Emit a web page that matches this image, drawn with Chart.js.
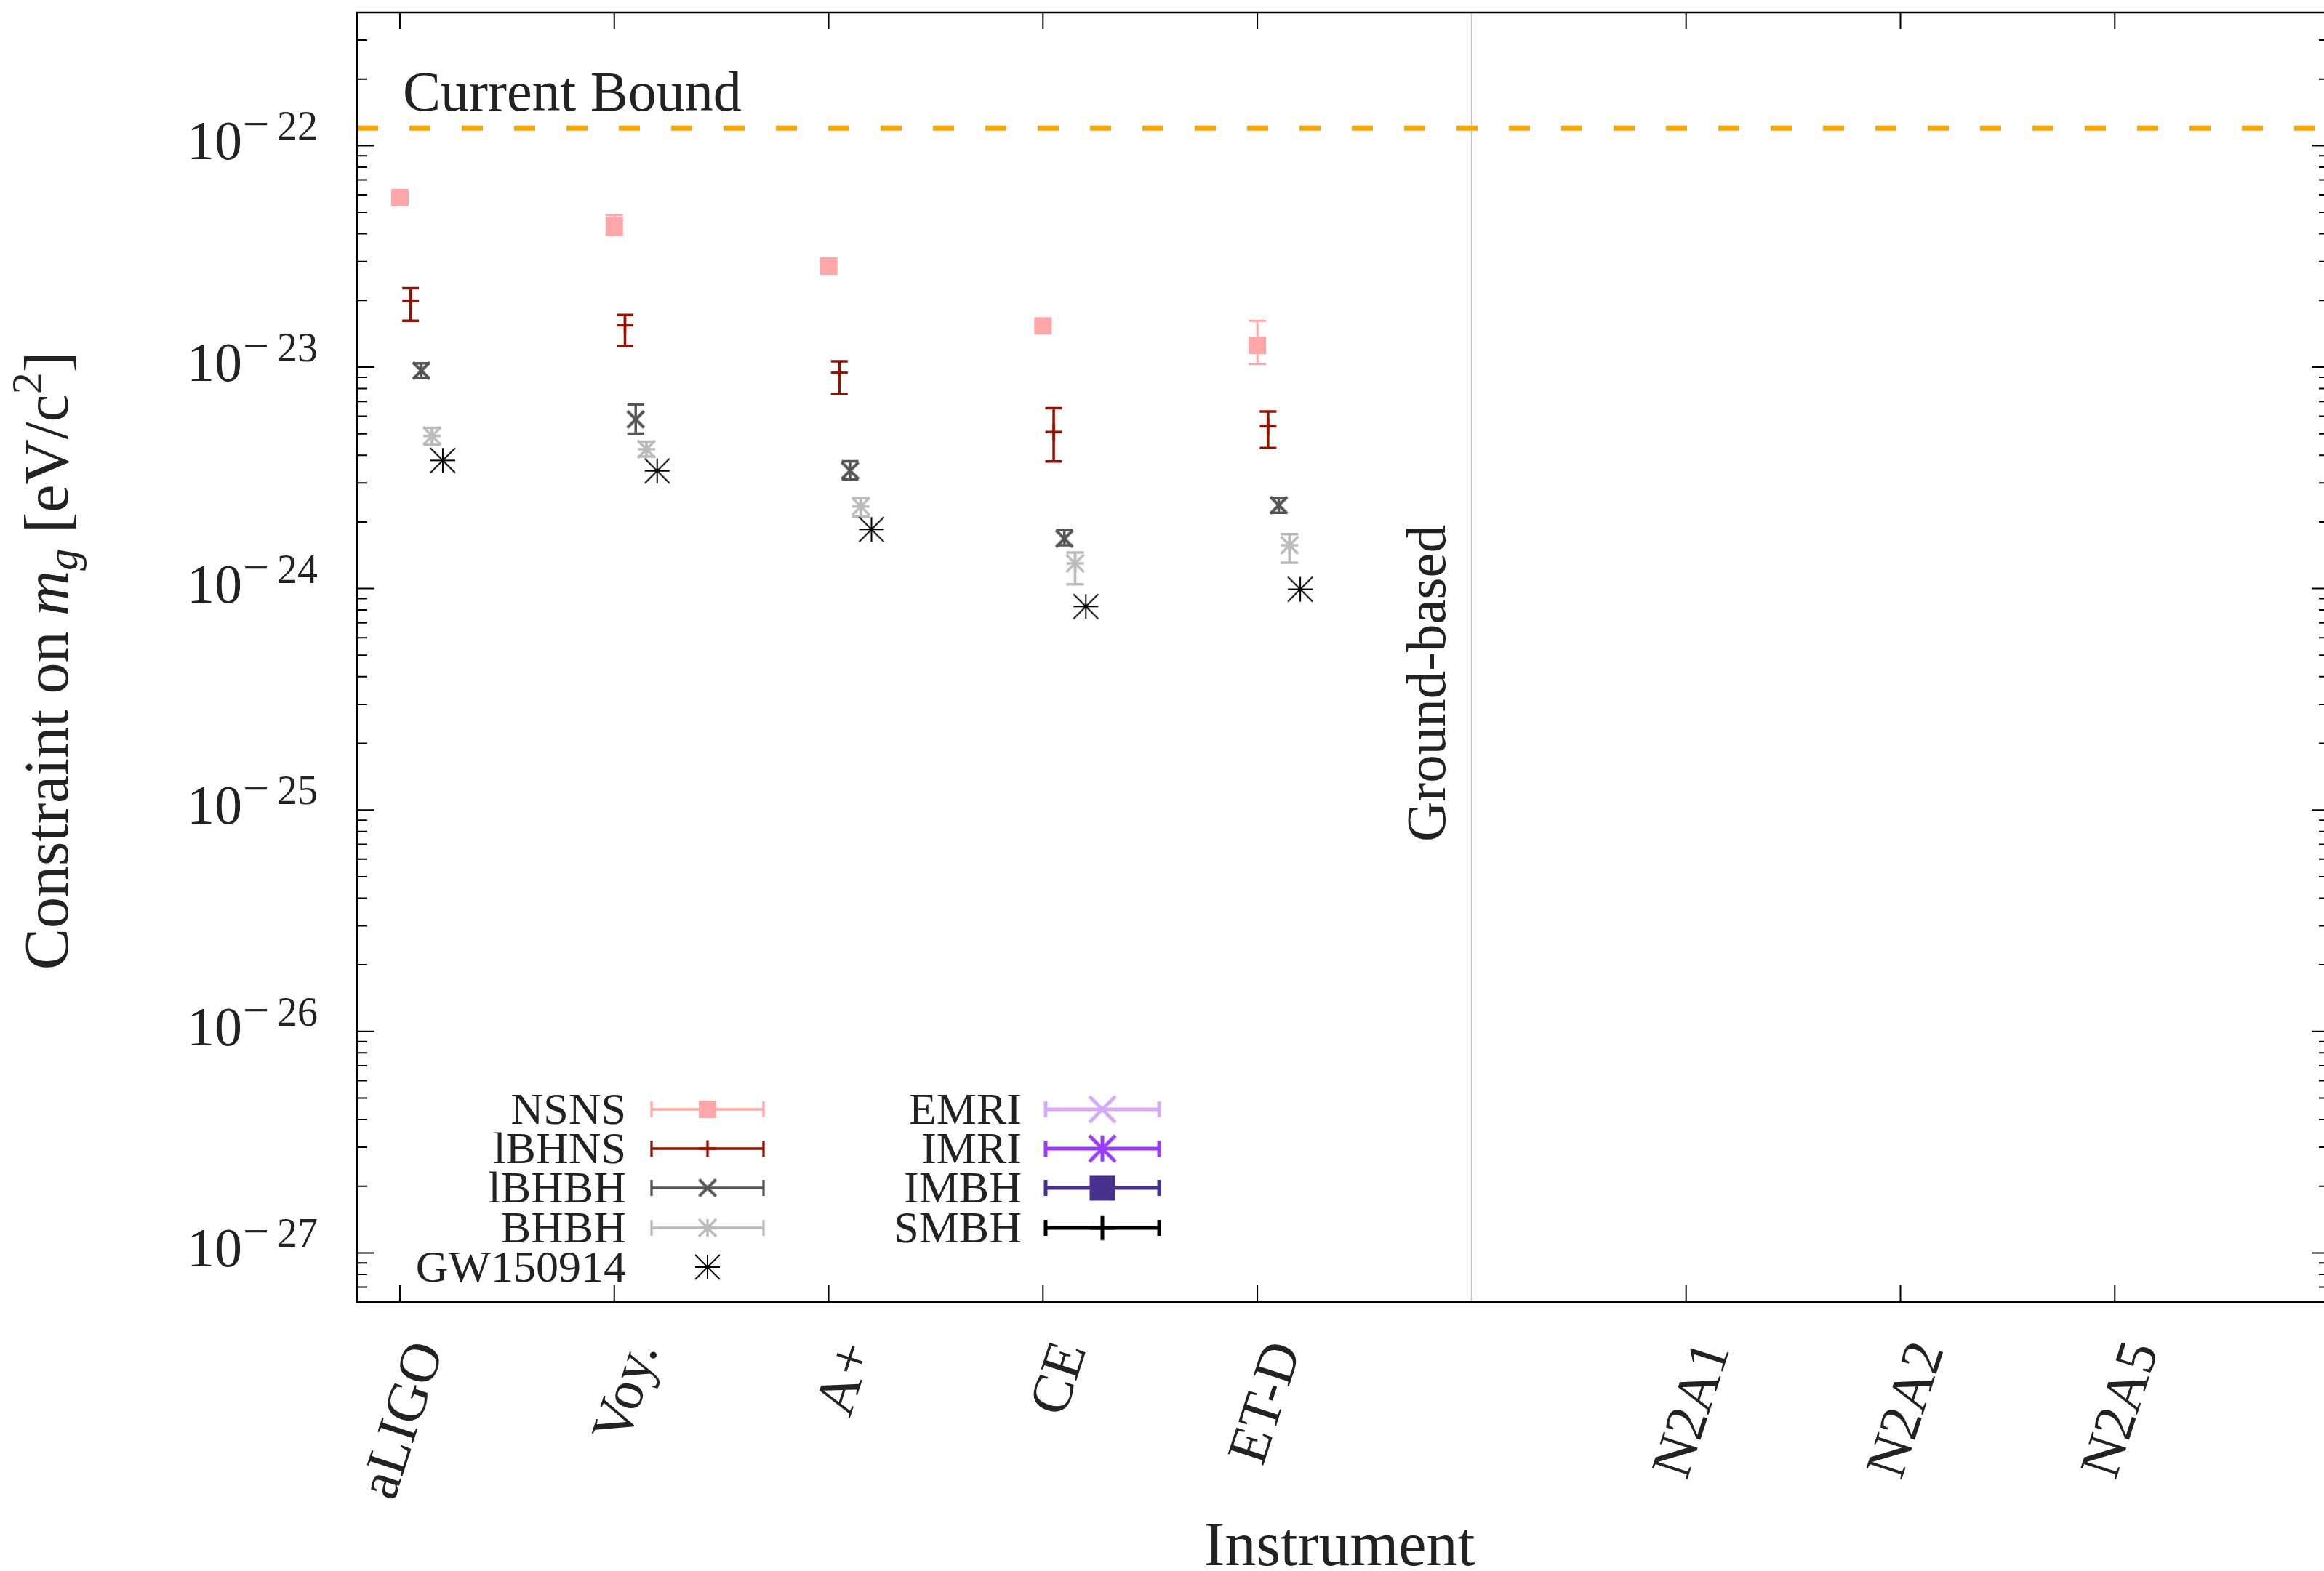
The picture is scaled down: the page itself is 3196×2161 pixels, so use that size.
<!DOCTYPE html>
<html>
<head>
<meta charset="utf-8">
<script src="https://cdn.jsdelivr.net/npm/chart.js@4.4.1/dist/chart.umd.min.js"></script>
<style>
  html, body { margin: 0; padding: 0; background: #fff; overflow: hidden; }
  canvas { display: block; }
  .fontwarm { position: absolute; left: -9999px; top: 0; font-family: "Liberation Serif"; font-size: 20px; }
</style>
</head>
<body>
<span class="fontwarm">Instrument <i>m</i></span>
<canvas id="mgChart" width="3196" height="2161"></canvas>
<script>
// Instruments along the x axis (ground-based first, space-based after the split)
const instruments = ['aLIGO', 'Voy.', 'A+', 'CE', 'ET-D', 'N2A1', 'N2A2', 'N2A5'];
const instrumentX = [0, 1, 2, 3, 4, 6, 7, 8];
const groundSplit = 5;
const yExponents = [-27, -26, -25, -24, -23, -22];
const currentBound = 1.2e-22;

// Constraint on m_g [eV/c^2] for the ground-based detectors (aLIGO .. ET-D)
const nsns   = [5.82e-23, 4.35e-23, 2.86e-23, 1.535e-23, 1.253e-23];
const nsnsLo = [5.60e-23, 3.95e-23, 2.76e-23, 1.49e-23, 1.033e-23];
const nsnsHi = [6.05e-23, 4.85e-23, 2.96e-23, 1.58e-23, 1.62e-23];

const lbhns   = [1.99e-23, 1.546e-23, 9.44e-24, 5.10e-24, 5.42e-24];
const lbhnsLo = [1.62e-23, 1.245e-23, 7.54e-24, 3.75e-24, 4.31e-24];
const lbhnsHi = [2.27e-23, 1.72e-23, 1.062e-23, 6.53e-24, 6.31e-24];

const lbhbh   = [9.64e-24, 5.81e-24, 3.41e-24, 1.68e-24, 2.38e-24];
const lbhbhLo = [8.95e-24, 5.01e-24, 3.11e-24, 1.57e-24, 2.20e-24];
const lbhbhHi = [1.04e-23, 6.78e-24, 3.76e-24, 1.84e-24, 2.56e-24];

const bhbh   = [4.89e-24, 4.26e-24, 2.35e-24, 1.30e-24, 1.57e-24];
const bhbhLo = [4.46e-24, 3.95e-24, 2.12e-24, 1.045e-24, 1.31e-24];
const bhbhHi = [5.32e-24, 4.61e-24, 2.56e-24, 1.455e-24, 1.76e-24];

const gw150914 = [3.79e-24, 3.40e-24, 1.85e-24, 8.30e-25, 9.93e-25];

const FONT = '"Liberation Serif", "DejaVu Serif", serif';
const TEXT = '#222222';

// small canvases used as point styles
function glyph(kind, half, lw, color) {
  const s = Math.ceil(2 * half + lw + 4);
  const c = document.createElement('canvas');
  c.width = s; c.height = s;
  const g = c.getContext('2d');
  const m = s / 2;
  g.strokeStyle = color; g.fillStyle = color; g.lineWidth = lw;
  const seg = (x0, y0, x1, y1) => { g.beginPath(); g.moveTo(m + x0, m + y0); g.lineTo(m + x1, m + y1); g.stroke(); };
  if (kind === 'square') g.fillRect(m - half, m - half, 2 * half, 2 * half);
  if (kind === 'plus' || kind === 'ast') { seg(-half, 0, half, 0); seg(0, -half, 0, half); }
  if (kind === 'x' || kind === 'ast') { seg(-half, -half, half, half); seg(-half, half, half, -half); }
  if (kind === 'vx') { seg(0, -half, 0, half); seg(-half, -half, half, half); seg(-half, half, half, -half); }
  return c;
}

function pts(vals, offset) {
  return vals.map((v, i) => ({ x: instrumentX[i] + offset, y: v }));
}

const datasets = [
  { label: 'Current Bound', data: [{ x: -0.2, y: currentBound }, { x: 9, y: currentBound }],
    showLine: true, borderColor: '#ffa500', borderWidth: 7, borderDash: [29, 43], pointRadius: 0 },
  { label: 'split', data: [{ x: groundSplit, y: 6e-28 }, { x: groundSplit, y: 4e-22 }],
    showLine: true, borderColor: '#c4c4c4', borderWidth: 2, pointRadius: 0 },
  { label: 'NSNS', data: pts(nsns, 0), errLo: nsnsLo, errHi: nsnsHi, errColor: '#ffa6a8', errWidth: 3, capHalf: 12,
    pointStyle: glyph('square', 12, 0, '#ffa6a8'), pointRadius: 12, legend: { col: 0, row: 0, bar: true } },
  { label: 'lBHNS', data: pts(lbhns, 0.05), errLo: lbhnsLo, errHi: lbhnsHi, errColor: '#901200', errWidth: 3.5, capHalf: 11.5,
    pointStyle: glyph('plus', 11.5, 3.5, '#901200'), pointRadius: 12, legend: { col: 0, row: 1, bar: true } },
  { label: 'lBHBH', data: pts(lbhbh, 0.1), errLo: lbhbhLo, errHi: lbhbhHi, errColor: '#555555', errWidth: 3.5, capHalf: 11.5,
    pointStyle: glyph('x', 11.5, 4, '#555555'), pointRadius: 12, legend: { col: 0, row: 2, bar: true } },
  { label: 'BHBH', data: pts(bhbh, 0.15), errLo: bhbhLo, errHi: bhbhHi, errColor: '#bbbbbb', errWidth: 3.5, capHalf: 12,
    pointStyle: glyph('ast', 12, 3.5, '#bbbbbb'), pointRadius: 12, legend: { col: 0, row: 3, bar: true } },
  { label: 'GW150914', data: pts(gw150914, 0.2),
    pointStyle: glyph('ast', 17, 2, '#000000'), pointRadius: 17, legend: { col: 0, row: 4, bar: false } },
  { label: 'EMRI', data: [], errColor: '#d6a9f7', errWidth: 5,
    pointStyle: glyph('x', 18, 5, '#d6a9f7'), legend: { col: 1, row: 0, bar: true } },
  { label: 'IMRI', data: [], errColor: '#9a3cf5', errWidth: 5,
    pointStyle: glyph('vx', 18, 5, '#9a3cf5'), legend: { col: 1, row: 1, bar: true } },
  { label: 'IMBH', data: [], errColor: '#48318c', errWidth: 5,
    pointStyle: glyph('square', 17.5, 0, '#48318c'), legend: { col: 1, row: 2, bar: true } },
  { label: 'SMBH', data: [], errColor: '#000000', errWidth: 5,
    pointStyle: glyph('plus', 17, 5, '#000000'), legend: { col: 1, row: 3, bar: true } }
];

// error bars, drawn under the markers
const errorBars = {
  id: 'errorBars',
  beforeDatasetsDraw(chart) {
    const ctx = chart.ctx, ys = chart.scales.y;
    chart.data.datasets.forEach((ds, i) => {
      if (!ds.errLo) return;
      const meta = chart.getDatasetMeta(i);
      ctx.save();
      ctx.strokeStyle = ds.errColor;
      ctx.lineWidth = ds.errWidth;
      meta.data.forEach((pt, j) => {
        const yLo = ys.getPixelForValue(ds.errLo[j]);
        const yHi = ys.getPixelForValue(ds.errHi[j]);
        ctx.beginPath();
        ctx.moveTo(pt.x, yLo); ctx.lineTo(pt.x, yHi);
        ctx.moveTo(pt.x - ds.capHalf, yLo); ctx.lineTo(pt.x + ds.capHalf, yLo);
        ctx.moveTo(pt.x - ds.capHalf, yHi); ctx.lineTo(pt.x + ds.capHalf, yHi);
        ctx.stroke();
      });
      ctx.restore();
    });
  }
};

// frame, inward ticks, labels, titles and legend
const decor = {
  id: 'decor',
  afterDraw(chart) {
    const ctx = chart.ctx, a = chart.chartArea;
    const xs = chart.scales.x, ys = chart.scales.y;
    // the right edge of the frame sits just past the canvas
    const right = xs.getPixelForValue(9);
    ctx.save();
    ctx.strokeStyle = '#000'; ctx.fillStyle = TEXT;

    // ticks
    ctx.lineWidth = 2;
    ctx.beginPath();
    for (let e = -28; e <= -22; e++) {
      for (let m = 1; m <= 9; m++) {
        const v = m * Math.pow(10, e);
        if (v < ys.min || v > ys.max) continue;
        const py = ys.getPixelForValue(v);
        const len = m === 1 ? 24 : 14;
        ctx.moveTo(a.left, py); ctx.lineTo(a.left + len, py);
        ctx.moveTo(right, py); ctx.lineTo(right - len, py);
      }
    }
    instrumentX.forEach(v => {
      const px = xs.getPixelForValue(v);
      ctx.moveTo(px, a.bottom); ctx.lineTo(px, a.bottom - 23);
      ctx.moveTo(px, a.top); ctx.lineTo(px, a.top + 23);
    });
    ctx.stroke();

    // frame
    ctx.lineWidth = 2.5;
    ctx.strokeRect(a.left, a.top, right - a.left, a.bottom - a.top);

    // y tick labels 10^n
    yExponents.forEach(e => {
      const py = ys.getPixelForValue(Math.pow(10, e));
      ctx.textAlign = 'left'; ctx.textBaseline = 'alphabetic';
      ctx.font = '76px ' + FONT;
      ctx.fillText('10', 257, py + 19);
      ctx.font = '64px ' + FONT;
      ctx.fillText('\u2212', 334, py - 8);
      ctx.font = '56px ' + FONT;
      ctx.textAlign = 'right';
      ctx.fillText(String(-e), 437, py - 8);
    });

    // x tick labels, rotated
    ctx.font = '78px ' + FONT;
    instruments.forEach((name, i) => {
      const px = xs.getPixelForValue(instrumentX[i]);
      ctx.save();
      ctx.translate(px + 60, a.bottom + 65);
      ctx.rotate(-72 * Math.PI / 180);
      ctx.textAlign = 'right'; ctx.textBaseline = 'alphabetic';
      ctx.fillText(name, 0, 0);
      ctx.restore();
    });

    // annotations
    ctx.textAlign = 'left'; ctx.textBaseline = 'alphabetic';
    ctx.font = '78px ' + FONT;
    ctx.fillText('Current Bound', a.left + 63, 152);
    ctx.save();
    ctx.translate(xs.getPixelForValue(groundSplit) - 37, 1158);
    ctx.rotate(-Math.PI / 2);
    ctx.font = '77px ' + FONT;
    ctx.fillText('Ground-based', 0, 0);
    ctx.restore();

    // axis titles
    ctx.font = '86px ' + FONT;
    ctx.textAlign = 'center';
    ctx.fillText('Instrument', (a.left + right) / 2 - 5, 2153);

    const parts = [
      { t: 'Constraint on ', f: '86px ' + FONT, dy: 0 },
      { t: 'm', f: 'italic 86px ' + FONT, dy: 0 },
      { t: 'g', f: 'italic 60px ' + FONT, dy: 13 },
      { t: ' [eV/c', f: '86px ' + FONT, dy: 0 },
      { t: '2', f: '60px ' + FONT, dy: -36 },
      { t: ']', f: '86px ' + FONT, dy: 0 }
    ];
    let total = 0;
    parts.forEach(p => { ctx.font = p.f; p.w = ctx.measureText(p.t).width; total += p.w; });
    ctx.save();
    ctx.translate(93, (a.top + a.bottom) / 2 + 5);
    ctx.rotate(-Math.PI / 2);
    ctx.textAlign = 'left';
    let cx = -total / 2;
    parts.forEach(p => { ctx.font = p.f; ctx.fillText(p.t, cx, p.dy); cx += p.w; });
    ctx.restore();

    // legend
    const cols = [{ textRight: 861, x0: 896, x1: 1050 }, { textRight: 1405, x0: 1438, x1: 1594 }];
    const rowY = [1526, 1580, 1634, 1689, 1743];
    chart.data.datasets.forEach(ds => {
      if (!ds.legend) return;
      const c = cols[ds.legend.col], y = rowY[ds.legend.row];
      ctx.fillStyle = TEXT;
      ctx.font = '62px ' + FONT;
      ctx.textAlign = 'right';
      ctx.fillText(ds.label, c.textRight, y + 20);
      if (ds.legend.bar) {
        ctx.strokeStyle = ds.errColor;
        ctx.lineWidth = ds.legend.col === 0 ? 3.3 : 5;
        ctx.beginPath();
        ctx.moveTo(c.x0, y); ctx.lineTo(c.x1, y);
        ctx.moveTo(c.x0, y - 11); ctx.lineTo(c.x0, y + 11);
        ctx.moveTo(c.x1, y - 11); ctx.lineTo(c.x1, y + 11);
        ctx.stroke();
      }
      const g = ds.pointStyle;
      const cx2 = (c.x0 + c.x1) / 2;
      ctx.drawImage(g, cx2 - g.width / 2, y - g.height / 2);
    });
    ctx.restore();
  }
};

function drawChart() {
  new Chart(document.getElementById('mgChart').getContext('2d'), {
    type: 'scatter',
    data: { datasets: datasets },
    options: {
      responsive: false,
      animation: false,
      devicePixelRatio: 1,
      events: [],
      layout: { autoPadding: false, padding: { left: 491, top: 17, right: 0, bottom: 370 } },
      scales: {
        x: { type: 'linear', min: -0.2, max: 8.976, display: false },
        y: { type: 'logarithmic', min: 6e-28, max: 4e-22, display: false }
      },
      plugins: { legend: { display: false }, tooltip: { enabled: false } }
    },
    plugins: [errorBars, decor]
  });
}

Promise.all([
  document.fonts.load('78px "Liberation Serif"'),
  document.fonts.load('italic 78px "Liberation Serif"')
]).then(drawChart, drawChart);
</script>
</body>
</html>
